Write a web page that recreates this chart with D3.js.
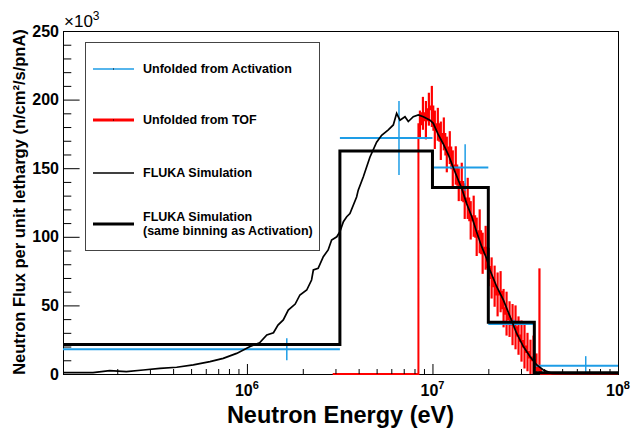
<!DOCTYPE html>
<html>
<head>
<meta charset="utf-8">
<script src="https://cdn.jsdelivr.net/npm/d3@7"></script>
<style>
  html, body { margin: 0; padding: 0; background: #ffffff; }
  svg { display: block; font-family: "Liberation Sans", Arial, Helvetica, sans-serif; }
</style>
</head>
<body>
<svg id="chart" width="633" height="429"></svg>
<script>
// ---- data (energy in eV, flux in units of 10^3 n/cm2/s/pnA per unit lethargy) ----

// FLUKA simulation, fine binning
const flukaEnergy = [1.02e5, 1.48e5, 1.82e5, 2.24e5, 2.76e5, 3.40e5, 4.18e5, 5.14e5, 6.32e5, 7.45e5, 8.80e5,
  1.04e6, 1.17e6, 1.28e6, 1.39e6, 1.47e6, 1.57e6, 1.67e6, 1.82e6, 1.93e6, 2.10e6,
  2.23e6, 2.28e6, 2.42e6, 2.58e6, 2.74e6, 2.86e6, 3.05e6, 3.17e6, 3.31e6, 3.45e6,
  3.59e6, 3.90e6, 3.98e6, 4.24e6, 4.60e6, 5.00e6, 5.32e6, 5.78e6, 6.15e6, 6.41e6,
  6.68e6, 7.11e6, 7.41e6, 7.88e6, 8.39e6, 8.93e6, 9.70e6,
  1.01e7, 1.07e7, 1.14e7, 1.22e7, 1.29e7, 1.38e7, 1.44e7, 1.53e7, 1.63e7, 1.73e7,
  1.84e7, 1.96e7, 2.04e7, 2.22e7, 2.41e7, 2.62e7, 2.84e7, 3.09e7, 3.36e7, 3.65e7,
  3.96e7, 4.40e7, 5.51e7, 8.0e7, 1e8];
const flukaFlux = [1.0, 1.0, 2.4, 1.7, 2.9, 4.1, 4.9, 6.6, 9.0, 11.4, 15.0,
  20.0, 22.8, 28.4, 30.1, 35.7, 39.4, 46.6, 51.0, 57.6, 61.2,
  68.5, 75.8, 77.0, 85.5, 90.4, 97.7, 100.0, 103.7, 111.0, 114.6,
  117.0, 129.0, 134.0, 143.8, 158.0, 169.0, 174.0, 178.0, 181.5, 190.0,
  185.0, 187.5, 184.0, 187.5, 188.8, 187.5, 185.0,
  182.7, 175.0, 168.0, 159.6, 151.0, 141.0, 135.0, 124.0, 114.6, 103.5,
  93.0, 84.0, 75.8, 63.6, 54.0, 41.8, 29.7, 20.0, 12.6, 6.6,
  2.9, 0.5, 0.3, 0.2, 0.2];

// Activation binning (bin edges), unfolded activation spectrum and FLUKA rebinned
const actEdges = [1e5, 3.17e6, 1e7, 2e7, 3.54e7, 1e8];
const actCenter = [1.64e6, 6.6e6, 1.5e7, 2.75e7, 6.7e7];
const actFlux = [18, 172, 150.5, 36.5, 6];
const actErr = [8, 27, 17, 3, 7];
const flukaBinnedFlux = [21.5, 162.5, 136, 37.7, 1];

// Time-of-flight unfolding (bin edges in MeV)
const tofEdgesMeV = [2.9, 8.40, 8.72, 9.05, 9.39, 9.74, 10.11, 10.49, 10.89, 11.30, 11.73,
  12.17, 12.63, 13.11, 13.60, 14.12, 14.65, 15.20, 15.78, 16.37, 16.99,
  17.64, 18.30, 18.99, 19.71, 20.45, 21.23, 22.03, 22.86, 23.73, 24.62,
  25.55, 26.52, 27.52, 28.56, 29.64, 30.76, 31.92, 33.13, 34.38, 35.68,
  37.03, 38.43, 100];
const tofFlux = [0, 182, 190, 185, 193, 195, 178, 182, 170, 175, 160,
  165, 150, 152, 138, 140, 126, 128, 112, 115, 100,
  104, 88, 92, 78, 70, 64, 58, 60, 48, 44,
  40, 36, 34, 28, 24, 20, 16, 12, 10, 5,
  3, 0];
const tofErr = [0, 10, 12, 14, 12, 15, 14, 12, 14, 12, 13,
  12, 13, 14, 12, 14, 13, 15, 14, 15, 14,
  16, 15, 16, 14, 15, 15, 16, 15, 14, 16,
  13, 15, 16, 14, 15, 16, 14, 13, 18, 10,
  74, 0];

// axis ticks and labels
const yMajor = [0, 50, 100, 150, 200, 250];
const yMinor = [10, 20, 30, 40, 60, 70, 80, 90, 110, 120, 130, 140, 160, 170, 180, 190, 210, 220, 230, 240];
const xMajor = [1e6, 1e7, 1e8];
const xMajorExp = ["6", "7", "8"];
const xMinor = [2e5, 3e5, 4e5, 5e5, 6e5, 7e5, 8e5, 9e5,
  2e6, 3e6, 4e6, 5e6, 6e6, 7e6, 8e6, 9e6,
  2e7, 3e7, 4e7, 5e7, 6e7, 7e7, 8e7, 9e7];

const legendLabels = [
  ["Unfolded from Activation"],
  ["Unfolded from TOF"],
  ["FLUKA Simulation"],
  ["FLUKA Simulation", "(same binning as Activation)"]
];

// ---- drawing ----
const BLUE = "#1e9de6";
const RED = "#ff0000";
const BLACK = "#000000";

const plot = { left: 63, right: 618, top: 31, bottom: 374 };
const x = d3.scaleLog().domain([1.02e5, 1e8]).range([plot.left, plot.right]);
const y = d3.scaleLinear().domain([0, 250]).range([plot.bottom, plot.top]);

const svg = d3.select("#chart");
svg.append("rect").attr("width", 633).attr("height", 429).attr("fill", "#ffffff");

svg.append("defs").append("clipPath").attr("id", "plotClip")
  .append("rect")
  .attr("x", plot.left).attr("y", plot.top)
  .attr("width", plot.right - plot.left).attr("height", plot.bottom - plot.top + 2);

// frame
svg.append("rect")
  .attr("x", plot.left + 0.5).attr("y", plot.top + 0.5)
  .attr("width", plot.right - plot.left).attr("height", plot.bottom - plot.top)
  .attr("fill", "none").attr("stroke", BLACK).attr("stroke-width", 1);

const g = svg.append("g").attr("clip-path", "url(#plotClip)");
const stepLine = d3.line().x(d => x(d[0])).y(d => y(d[1])).curve(d3.curveStepAfter);

// TOF spectrum: histogram outline + error bars
const tofEdges = tofEdgesMeV.map(e => e * 1e6);
const tofPts = tofFlux.map((v, i) => [tofEdges[i], v]);
tofPts.push([tofEdges[tofEdges.length - 1], tofFlux[tofFlux.length - 1]]);
g.append("path").attr("d", stepLine(tofPts))
  .attr("fill", "none").attr("stroke", RED).attr("stroke-width", 2);
const tofBars = tofFlux.map((v, i) => ({ v, e: tofErr[i], c: Math.sqrt(tofEdges[i] * tofEdges[i + 1]) }))
  .filter(d => d.e > 0);
g.selectAll("line.tof").data(tofBars).join("line").attr("class", "tof")
  .attr("x1", d => x(d.c)).attr("x2", d => x(d.c))
  .attr("y1", d => y(Math.max(0, d.v - d.e))).attr("y2", d => y(d.v + d.e))
  .attr("stroke", RED).attr("stroke-width", 2.2);

// activation spectrum: horizontal bin extent + vertical error
const actData = actFlux.map((v, i) => ({ v, e: actErr[i], c: actCenter[i], lo: actEdges[i], hi: actEdges[i + 1] }));
g.selectAll("line.acth").data(actData).join("line").attr("class", "acth")
  .attr("x1", d => x(d.lo)).attr("x2", d => x(d.hi))
  .attr("y1", d => y(d.v)).attr("y2", d => y(d.v))
  .attr("stroke", BLUE).attr("stroke-width", 2);
g.selectAll("line.actv").data(actData).join("line").attr("class", "actv")
  .attr("x1", d => x(d.c)).attr("x2", d => x(d.c))
  .attr("y1", d => y(Math.max(0, d.v - d.e))).attr("y2", d => y(d.v + d.e))
  .attr("stroke", BLUE).attr("stroke-width", 1.5);

// FLUKA rebinned to activation bins
const binnedPts = [[actEdges[0], 0]];
flukaBinnedFlux.forEach((v, i) => binnedPts.push([actEdges[i], v]));
binnedPts.push([actEdges[actEdges.length - 1], flukaBinnedFlux[flukaBinnedFlux.length - 1]]);
g.append("path").attr("d", stepLine(binnedPts))
  .attr("fill", "none").attr("stroke", BLACK).attr("stroke-width", 3);

// FLUKA fine spectrum
const finePts = flukaEnergy.map((e, i) => [e, flukaFlux[i]]);
g.append("path")
  .attr("d", d3.line().x(d => x(d[0])).y(d => y(d[1])).curve(d3.curveLinear)(finePts))
  .attr("fill", "none").attr("stroke", BLACK).attr("stroke-width", 1.7)
  .attr("stroke-linejoin", "miter");

// ---- axes ----
function styleAxis(sel) {
  sel.select(".domain").remove();
  sel.selectAll(".tick line").attr("stroke", BLACK).attr("stroke-width", 1);
}

const yAxisG = svg.append("g").attr("transform", `translate(${plot.left},0)`)
  .call(d3.axisLeft(y).tickValues(yMajor).tickSizeInner(-16.6).tickSizeOuter(0)
    .tickPadding(4).tickFormat(d3.format("d")));
styleAxis(yAxisG);
yAxisG.selectAll(".tick text").attr("fill", BLACK)
  .style("font-size", "16px").style("font-weight", "bold")
  .style("font-family", "'Liberation Sans', Arial, Helvetica, sans-serif");
const yMinorG = svg.append("g").attr("transform", `translate(${plot.left},0)`)
  .call(d3.axisLeft(y).tickValues(yMinor).tickSizeInner(-8.3).tickSizeOuter(0).tickFormat(""));
styleAxis(yMinorG);

const xAxisG = svg.append("g").attr("transform", `translate(0,${plot.bottom})`)
  .call(d3.axisBottom(x).tickValues(xMajor).tickSizeInner(-10).tickSizeOuter(0).tickFormat(""));
styleAxis(xAxisG);
const xMinorG = svg.append("g").attr("transform", `translate(0,${plot.bottom})`)
  .call(d3.axisBottom(x).tickValues(xMinor).tickSizeInner(-5).tickSizeOuter(0).tickFormat(""));
styleAxis(xMinorG);

// decade labels 10^n
xMajor.forEach((v, i) => {
  const t = svg.append("text").attr("x", x(v)).attr("y", 396)
    .attr("text-anchor", "middle").attr("font-size", 16).attr("font-weight", "bold");
  t.append("tspan").text("10");
  t.append("tspan").attr("dy", -7).attr("font-size", 11).text(xMajorExp[i]);
});

// y multiplier
const mult = svg.append("text").attr("x", 64).attr("y", 27).attr("font-size", 17);
mult.append("tspan").text("\u00d710");
mult.append("tspan").attr("dy", -7).attr("font-size", 12).text("3");

// axis titles
svg.append("text").attr("x", 340.5).attr("y", 423)
  .attr("text-anchor", "middle").attr("font-size", 23.5).attr("font-weight", "bold")
  .text("Neutron Energy (eV)");
svg.append("text")
  .attr("transform", "translate(25,202) rotate(-90)")
  .attr("text-anchor", "middle").attr("font-size", 16.5).attr("font-weight", "bold")
  .text("Neutron Flux per unit lethargy (n/cm\u00b2/s/pnA)");

// ---- legend ----
const leg = svg.append("g");
leg.append("rect").attr("x", 85.5).attr("y", 42.5).attr("width", 234).attr("height", 208)
  .attr("fill", "#ffffff").attr("stroke", "#444444").attr("stroke-width", 1);
const legRows = [69, 120, 173, 224];
const legStyle = [
  { color: BLUE, width: 1.6, dot: true },
  { color: RED, width: 3, dot: true },
  { color: BLACK, width: 1.5, dot: false },
  { color: BLACK, width: 3, dot: false }
];
legRows.forEach((ry, i) => {
  leg.append("line").attr("x1", 93).attr("x2", 134).attr("y1", ry).attr("y2", ry)
    .attr("stroke", legStyle[i].color).attr("stroke-width", legStyle[i].width);
  if (legStyle[i].dot) {
    leg.append("rect").attr("x", 113).attr("y", ry - 0.5).attr("width", 1).attr("height", 1).attr("fill", BLACK);
  }
  const lines = legendLabels[i];
  lines.forEach((s, k) => {
    const off = lines.length === 1 ? 0 : (k === 0 ? -7 : 7);
    leg.append("text").attr("x", 143).attr("y", ry + off).attr("dy", "0.35em")
      .attr("font-size", 12.5).attr("font-weight", "bold").text(s);
  });
});
</script>
</body>
</html>
